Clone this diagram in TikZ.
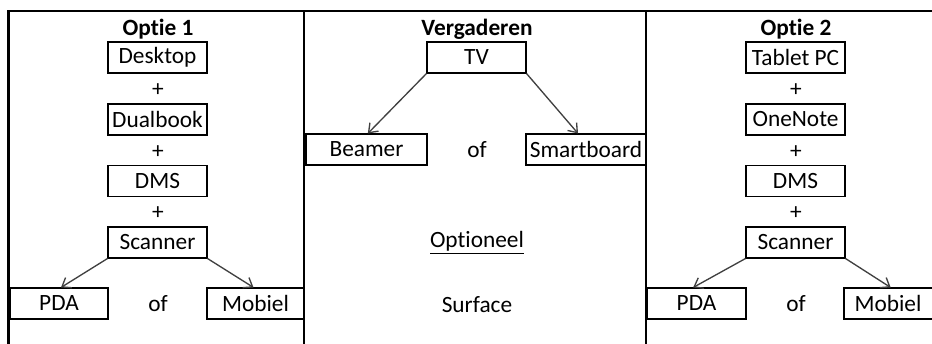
\documentclass[tikz,border=0pt]{standalone}
\usepackage{fontspec}
\setmainfont{Carlito}[Ligatures={NoCommon}]
\usetikzlibrary{arrows.meta}
\begin{document}
\begin{tikzpicture}[x=0.75pt,y=-0.75pt,
  font=\fontsize{17.5}{20}\selectfont,
  frame/.style={line width=1.6pt,black},
  itembox/.style={draw,line width=0.8pt,inner sep=0pt,minimum height=23.25pt,minimum width=74.25pt},
  lbl/.style={inner sep=0pt},
  arr/.style={draw=black!75,line width=1pt,-{Straight Barb[length=6pt,width=9pt]}}]
\useasboundingbox (0,0) rectangle (932,343);
% frame
\coordinate (tl) at (8.5,11);
\coordinate (tr) at (934,11);
\coordinate (bl) at (8.5,345);
\draw[frame] (bl) -- (tl) -- (tr);
\coordinate (d1t) at (304,11);
\coordinate (d1b) at (304,345);
\coordinate (d2t) at (646,11);
\coordinate (d2b) at (646,345);
\draw[frame] (d1t) -- (d1b);
\draw[frame] (d2t) -- (d2b);
% column 1
\node[lbl,font=\fontsize{17.5}{20}\selectfont\bfseries] (t1) at (158,29) {Optie 1};
\node[itembox] (desk) at (157.5,57.5) {Desktop};
\node[lbl] (p1a) at (158,90) {+};
\node[itembox] (dual) at (157.5,119.5) {Dualbook};
\node[lbl] (p1b) at (158,152) {+};
\node[itembox] (dms1) at (157.5,181) {DMS};
\node[lbl] (p1c) at (158,213) {+};
\node[itembox] (scan1) at (157.5,242.5) {Scanner};
\node[itembox,minimum width=73.5pt] (pda1) at (59,303.5) {PDA};
\node[lbl] (of1) at (158,304) {of};
\node[itembox,minimum width=72.75pt] (mob1) at (255.5,303.5) {Mobiel};
\draw[arr] (scan1.south west) -- ([xshift=1.5pt]pda1.north);
\draw[arr] (scan1.south east) -- ([xshift=-1.5pt]mob1.north);
% column 2
\node[lbl,font=\fontsize{17.5}{20}\selectfont\bfseries] (t2) at (477,29) {Vergaderen};
\node[itembox] (tv) at (476.5,57.5) {TV};
\node[itembox,minimum width=90.75pt] (beam) at (366.5,149.5) {Beamer};
\node[lbl] (of2) at (477,150) {of};
\node[itembox,minimum width=90pt] (smart) at (586,149.5) {Smartboard};
\draw[arr] (tv.south west) -- ([xshift=1pt]beam.north);
\draw[arr] (tv.south east) -- ([xshift=-6pt]smart.north);
\node[lbl] (opt) at (477,243) {\underline{Optioneel}};
\node[lbl] (surf) at (477,305) {Surface};
% column 3
\node[lbl,font=\fontsize{17.5}{20}\selectfont\bfseries] (t3) at (796,29) {Optie 2};
\node[itembox] (tab) at (795.5,57.5) {Tablet PC};
\node[lbl] (p3a) at (796,90) {+};
\node[itembox] (one) at (795.5,119.5) {OneNote};
\node[lbl] (p3b) at (796,152) {+};
\node[itembox] (dms3) at (795.5,181) {DMS};
\node[lbl] (p3c) at (796,213) {+};
\node[itembox] (scan3) at (795.5,242.5) {Scanner};
\node[itembox] (pda3) at (696.5,303.5) {PDA};
\node[lbl] (of3) at (796,304) {of};
\node[itembox,minimum width=70.5pt] (mob3) at (891,303.5) {};
\node[lbl] (mob3t) at (888,303.5) {Mobiel};
\draw[arr] (scan3.south west) -- ([xshift=-2.5pt]pda3.north);
\draw[arr] (scan3.south east) -- ([xshift=2pt]mob3t.north |- mob3.north);
\end{tikzpicture}
\end{document}
